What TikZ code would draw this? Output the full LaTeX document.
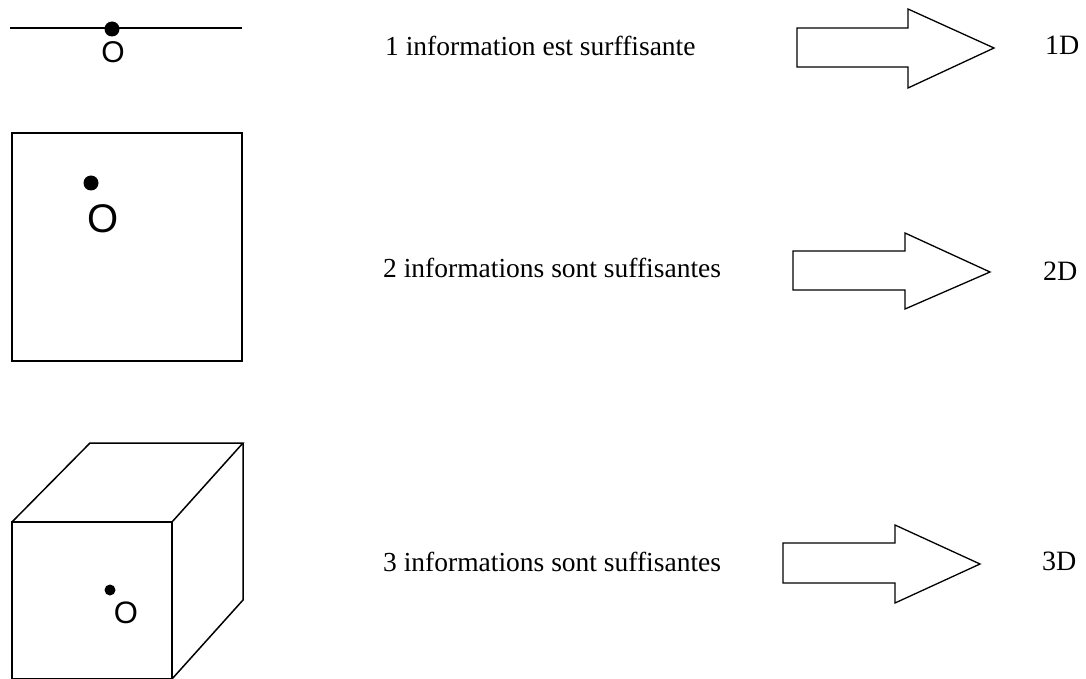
\documentclass[tikz,border=0pt]{standalone}
\usepackage{fontspec}
\setmainfont{Liberation Serif}
\newfontfamily\labelsans{Liberation Sans}
\begin{document}
\begin{tikzpicture}[x=1pt,y=-1pt,
  edge/.style={line width=1.5pt, line join=miter},
  blockarrow/.style={draw, line width=1.3pt, line join=miter},
  pointdot/.style={circle, fill=black, inner sep=0pt},
  caption/.style={anchor=base west, inner sep=0pt, font=\fontsize{27.5}{32}\selectfont},
  dimlabel/.style={anchor=base west, inner sep=0pt, font=\fontsize{28}{32}\selectfont}]
\useasboundingbox (0,0) rectangle (1086,679);

% --- one dimension: a line with a point
\draw[edge] (10,28) -- (242,28);
\node[pointdot, minimum size=15pt] (p1) at (112,29) {};
\node[inner sep=0pt, font=\labelsans\fontsize{30}{32}\selectfont] (o1) at (113,52) {O};

% --- two dimensions: a square with a point
\draw[edge] (12,133) rectangle (242,361);
\node[pointdot, minimum size=15pt] (p2) at (91,183) {};
\node[inner sep=0pt, font=\labelsans\fontsize{40}{44}\selectfont] (o2) at (103,219) {O};

% --- three dimensions: a cube with a point
\draw[edge] (12,522) rectangle (172,679);
\draw[edge] (12,522) -- (90,443) -- (243,443) -- (172,522);
\draw[edge] (243,443) -- (243,600) -- (172,679);
\node[pointdot, minimum size=11pt] (p3) at (110,590) {};
\node[inner sep=0pt, font=\labelsans\fontsize{31}{34}\selectfont] (o3) at (126,613) {O};

% --- captions
\node[caption] (t1) at (385,56) {1 information est surffisante};
\node[caption] (t2) at (383,277) {2 informations sont suffisantes};
\node[caption] (t3) at (383,571) {3 informations sont suffisantes};

% --- block arrows
\draw[blockarrow] (797,28) -- (908,28) -- (908,9) -- (994,48) -- (908,88) -- (908,67) -- (797,67) -- cycle;
\draw[blockarrow] (793,251) -- (905,251) -- (905,233) -- (990,272) -- (905,309) -- (905,290) -- (793,290) -- cycle;
\draw[blockarrow] (783,543) -- (895,543) -- (895,525) -- (980,564) -- (895,603) -- (895,583) -- (783,583) -- cycle;

% --- dimension labels
\node[dimlabel] (d1) at (1045,55) {1D};
\node[dimlabel] (d2) at (1043,280) {2D};
\node[dimlabel] (d3) at (1042,570) {3D};
\end{tikzpicture}
\end{document}
